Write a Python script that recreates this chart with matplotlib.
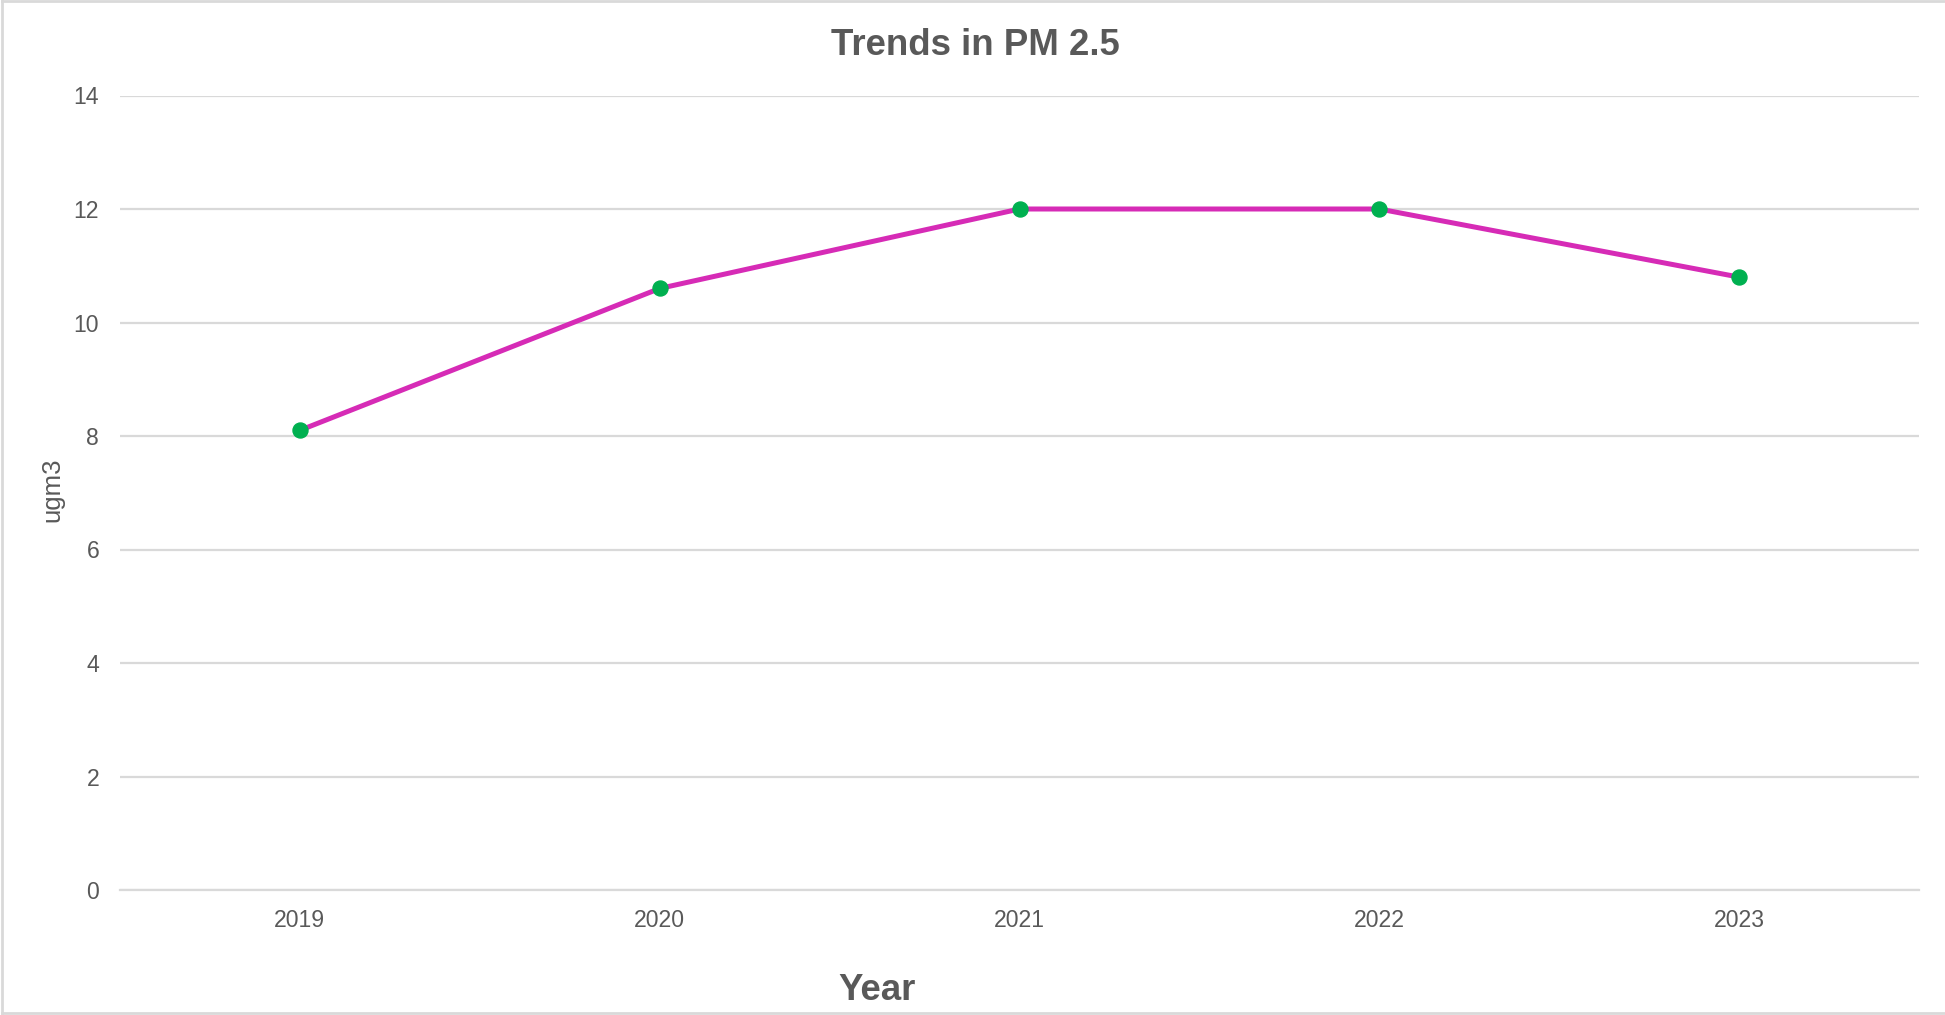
import matplotlib.pyplot as plt
from matplotlib.lines import Line2D

plt.rcParams['font.family'] = ['Liberation Sans', 'DejaVu Sans']

years = ['2019', '2020', '2021', '2022', '2023']
pm25 = [8.1, 10.6, 12.0, 12.0, 10.8]
y_ticks = [0, 2, 4, 6, 8, 10, 12, 14]

text_color = '#595959'
grid_color = '#D9D9D9'

W, H = 1945, 1015
fig = plt.figure(figsize=(W / 100, H / 100), dpi=100)
ax = fig.add_axes([120 / W, 1 - 890 / H, 1799 / W, (890 - 95.5) / H])

x = list(range(len(years)))
ax.plot(x, pm25, color='#D62BB6', linewidth=3.6, marker='o',
        markersize=10.8, markerfacecolor='#00B050', markeredgecolor='#00B050',
        zorder=3)

ax.set_xlim(-0.5, len(years) - 0.5)
ax.set_ylim(0, 14)
ax.set_xticks(x)
ax.set_xticklabels(years)
ax.set_yticks(y_ticks)
ax.tick_params(axis='both', length=0, labelsize=16.6, colors=text_color)
ax.tick_params(axis='y', pad=15)
ax.tick_params(axis='x', pad=14)

ax.grid(axis='y', color=grid_color, linewidth=1.6, zorder=0)
for side in ['top', 'right', 'left']:
    ax.spines[side].set_visible(False)
ax.spines['bottom'].set_color(grid_color)
ax.spines['bottom'].set_linewidth(1.6)

# titles and axis labels
fig.text(975 / W, 1 - 45 / H, 'Trends in PM 2.5', ha='center', va='center',
         fontsize=26.4, fontweight='bold', color=text_color)
fig.text(877 / W, 1 - 990 / H, 'Year', ha='center', va='center',
         fontsize=26.4, fontweight='bold', color=text_color)
fig.text(52 / W, 1 - 490 / H, 'ugm3', ha='center', va='center',
         rotation=90, fontsize=18.5, color=text_color)

# frame on the left, top and bottom edges
frame = dict(transform=fig.transFigure, color=grid_color, linewidth=2)
fig.lines.append(Line2D([2 / W, 2 / W], [2 / H, 1 - 1 / H], **frame))
fig.lines.append(Line2D([2 / W, 1], [1 - 1 / H, 1 - 1 / H], **frame))
fig.lines.append(Line2D([2 / W, 1], [2 / H, 2 / H], **frame))

fig.savefig('out.png', dpi=100, facecolor='white')
